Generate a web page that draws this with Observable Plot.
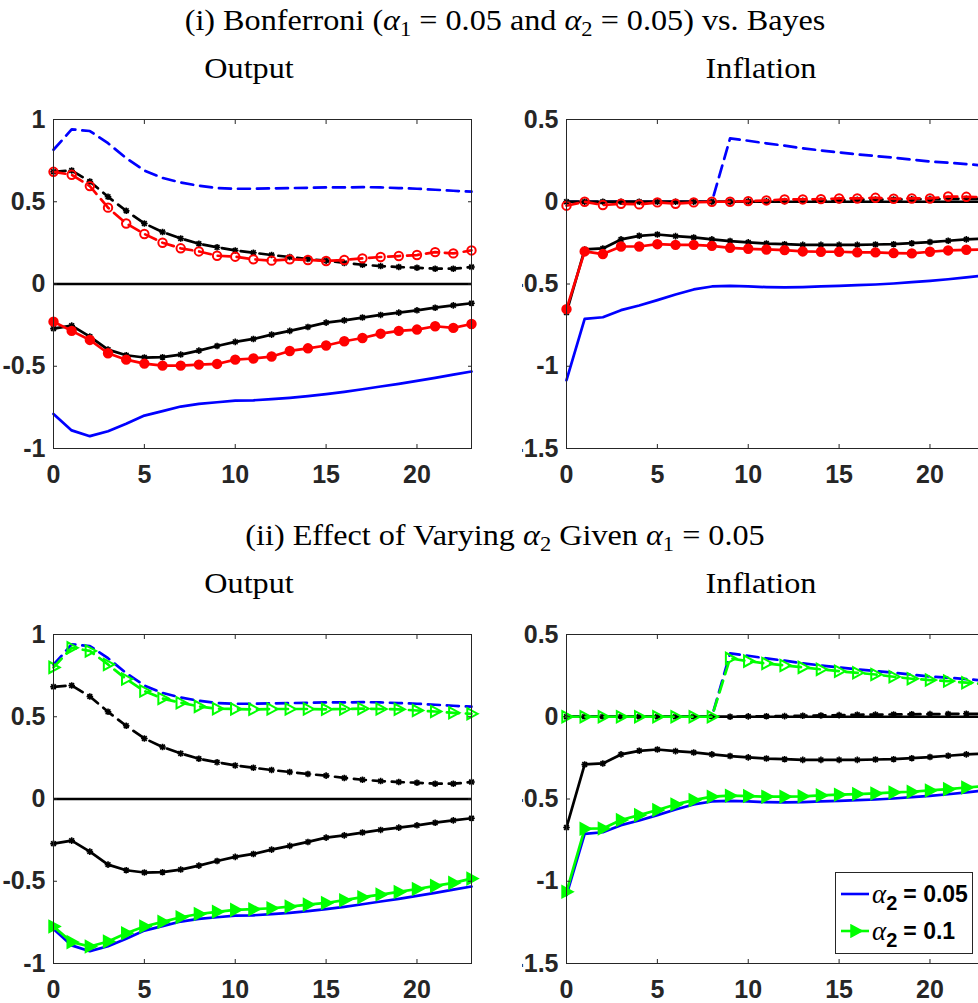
<!DOCTYPE html>
<html>
<head>
<meta charset="utf-8">
<script src="https://cdn.jsdelivr.net/npm/d3@7"></script>
<script src="https://cdn.jsdelivr.net/npm/@observablehq/plot@0.6"></script>
<style>
html,body{margin:0;padding:0;overflow:hidden;background:#fff;width:978px;height:1003px;}
#root{position:relative;width:978px;height:1003px;overflow:hidden;background:#fff;}
.title{position:absolute;font-family:"Liberation Serif","DejaVu Serif",serif;font-size:29px;color:#000;white-space:nowrap;transform:translate(-50%,-50%) scaleX(1.11);line-height:1;}
.title i{font-style:italic;}
.title sub{font-size:0.7em;vertical-align:-0.3em;line-height:0;}
.panel{position:absolute;overflow:hidden;}
.panel svg{position:absolute;top:0;max-width:none !important;}
#legend{position:absolute;left:835px;top:872px;width:138px;height:82px;border:1px solid #262626;background:#fff;box-sizing:border-box;}
#legend .li{position:absolute;left:5px;height:30px;display:flex;align-items:center;font-family:"Liberation Sans",Arial,sans-serif;font-weight:bold;font-size:23px;color:#000;white-space:nowrap;}
#legend .al{font-family:"Liberation Serif","DejaVu Serif",serif;font-style:italic;font-weight:normal;font-size:27px;margin-left:3px;}
#legend .sb{font-size:20px;position:relative;top:9px;margin-right:6px;}
</style>
</head>
<body>
<div id="root">
  <div class="title" style="left:505px;top:20px">(i) Bonferroni (<i>α</i><sub>1</sub> = 0.05 and <i>α</i><sub>2</sub> = 0.05) vs. Bayes</div>
  <div class="title" style="left:249px;top:68px">Output</div>
  <div class="title" style="left:761px;top:68px">Inflation</div>
  <div class="title" style="left:505px;top:535px">(ii) Effect of Varying <i>α</i><sub>2</sub> Given <i>α</i><sub>1</sub> = 0.05</div>
  <div class="title" style="left:249px;top:583px">Output</div>
  <div class="title" style="left:761px;top:583px">Inflation</div>
  <div class="panel" id="p1" style="left:0px;top:100px;width:490px;height:403px"></div>
  <div class="panel" id="p2" style="left:522px;top:100px;width:456px;height:403px"></div>
  <div class="panel" id="p3" style="left:0px;top:615px;width:490px;height:388px"></div>
  <div class="panel" id="p4" style="left:522px;top:615px;width:456px;height:388px"></div>
  <div id="legend">
    <div class="li" style="top:6px">
      <svg width="28" height="14"><line x1="0" y1="7" x2="28" y2="7" stroke="#0000ff" stroke-width="2.6"/></svg>
      <span class="al">α</span><span class="sb">2</span><span>= 0.05</span>
    </div>
    <div class="li" style="top:43px">
      <svg width="28" height="14"><line x1="0" y1="7" x2="28" y2="7" stroke="#00ff00" stroke-width="2.6"/><path d="M21,7 L10,1 L10,13 Z" fill="#00ff00" stroke="#00ff00" stroke-width="1.5"/></svg>
      <span class="al">α</span><span class="sb">2</span><span>= 0.1</span>
    </div>
  </div>
</div>
<script>
// ---- data ----
const horizons = [0,1,2,3,4,5,6,7,8,9,10,11,12,13,14,15,16,17,18,19,20,21,22,23];
const xTicks = [0,5,10,15,20];
const yTicksOutput = [-1,-0.5,0,0.5,1];
const yTicksInflation = [-1.5,-1,-0.5,0,0.5];

// Output
const outBlueUp  = [0.816,0.94,0.93,0.856,0.765,0.69,0.645,0.617,0.597,0.583,0.579,0.579,0.581,0.583,0.585,0.587,0.587,0.589,0.587,0.583,0.579,0.573,0.567,0.561];
const outBlueLo  = [-0.79,-0.89,-0.925,-0.895,-0.85,-0.80,-0.773,-0.745,-0.729,-0.719,-0.709,-0.707,-0.70,-0.692,-0.682,-0.67,-0.656,-0.64,-0.623,-0.607,-0.589,-0.571,-0.551,-0.532];
const outBlackUp = [0.682,0.69,0.623,0.53,0.445,0.368,0.316,0.277,0.245,0.223,0.204,0.19,0.176,0.164,0.152,0.142,0.128,0.117,0.109,0.103,0.099,0.093,0.093,0.103];
const outBlackLo = [-0.271,-0.253,-0.32,-0.399,-0.433,-0.447,-0.445,-0.429,-0.405,-0.377,-0.352,-0.334,-0.308,-0.285,-0.261,-0.235,-0.221,-0.204,-0.188,-0.174,-0.16,-0.144,-0.13,-0.117];
const outRedUp   = [0.682,0.664,0.595,0.464,0.368,0.304,0.251,0.217,0.198,0.172,0.166,0.15,0.142,0.15,0.146,0.14,0.146,0.156,0.164,0.17,0.176,0.194,0.186,0.204];
const outRedLo   = [-0.229,-0.285,-0.34,-0.421,-0.46,-0.484,-0.496,-0.496,-0.49,-0.486,-0.46,-0.453,-0.441,-0.407,-0.391,-0.374,-0.348,-0.328,-0.302,-0.285,-0.277,-0.257,-0.267,-0.243];
const outGreenUp = [0.80,0.919,0.90,0.818,0.729,0.656,0.611,0.585,0.563,0.549,0.547,0.545,0.547,0.547,0.547,0.545,0.547,0.549,0.547,0.545,0.538,0.532,0.524,0.518];
const outGreenLo = [-0.775,-0.87,-0.897,-0.866,-0.816,-0.775,-0.747,-0.719,-0.699,-0.686,-0.674,-0.67,-0.664,-0.654,-0.642,-0.632,-0.615,-0.597,-0.581,-0.565,-0.547,-0.528,-0.51,-0.484];

// Inflation
const infBlueUp  = [0,0,0,0,0,0,0,0,0,0.385,0.371,0.355,0.341,0.325,0.312,0.30,0.288,0.278,0.268,0.256,0.245,0.237,0.229,0.219];
const infBlueLo  = [-1.085,-0.712,-0.702,-0.659,-0.631,-0.598,-0.564,-0.533,-0.515,-0.511,-0.515,-0.519,-0.521,-0.519,-0.515,-0.511,-0.507,-0.503,-0.497,-0.489,-0.481,-0.471,-0.46,-0.448];
const infBlackUp = [0,0,0,0,0,0,0,0,0,0,0.002,0.003,0.004,0.006,0.008,0.01,0.012,0.013,0.014,0.015,0.016,0.017,0.018,0.018];
const infBlackLo = [-0.673,-0.29,-0.284,-0.229,-0.207,-0.199,-0.209,-0.217,-0.229,-0.239,-0.247,-0.254,-0.258,-0.262,-0.262,-0.262,-0.262,-0.26,-0.258,-0.252,-0.245,-0.237,-0.229,-0.223];
const infRedUp   = [-0.024,0,-0.02,-0.012,-0.016,-0.004,-0.012,-0.004,0,0,0.004,0.008,0.014,0.014,0.016,0.02,0.02,0.024,0.018,0.02,0.02,0.032,0.03,0.028];
const infRedLo   = [-0.653,-0.302,-0.318,-0.272,-0.272,-0.258,-0.262,-0.262,-0.268,-0.28,-0.286,-0.29,-0.294,-0.302,-0.304,-0.304,-0.308,-0.308,-0.312,-0.314,-0.304,-0.296,-0.292,-0.29];
const infGreenUp = [0,0,0,0,0,0,0,0,0,0.355,0.338,0.324,0.312,0.30,0.288,0.277,0.267,0.257,0.243,0.231,0.223,0.217,0.207,0.199];
const infGreenLo = [-1.064,-0.681,-0.679,-0.628,-0.598,-0.567,-0.533,-0.507,-0.486,-0.48,-0.482,-0.486,-0.486,-0.484,-0.478,-0.474,-0.47,-0.466,-0.46,-0.456,-0.448,-0.44,-0.43,-0.421];

// ---- symbols ----
const star8 = {draw(ctx, size){ const r = Math.sqrt(size/Math.PI); const d = r*0.72;
  ctx.moveTo(-r,0); ctx.lineTo(r,0); ctx.moveTo(0,-r); ctx.lineTo(0,r);
  ctx.moveTo(-d,-d); ctx.lineTo(d,d); ctx.moveTo(-d,d); ctx.lineTo(d,-d); }};
const triRight = {draw(ctx, size){ const r = Math.sqrt(size/Math.PI);
  ctx.moveTo(r*1.1,0); ctx.lineTo(-r*0.75,-r); ctx.lineTo(-r*0.75,r); ctx.closePath(); }};

const BLUE = "#0000ff", RED = "#ff0000", BLACK = "#000000", GREEN = "#00ff00";
const LW = 2.7;

function seriesMarks(s){
  const data = horizons.map((h,i) => ({h, v: s.values[i]}));
  const out = [Plot.line(data, {x:"h", y:"v", stroke:s.color, strokeWidth:LW,
    strokeDasharray: s.dash ? "12,7" : undefined, strokeLinejoin:"round"})];
  if (s.marker === "star") out.push(Plot.dot(data, {x:"h", y:"v", symbol:star8, r:3.3, stroke:s.color, fill:"none", strokeWidth:1.6}));
  if (s.marker === "circle") out.push(Plot.dot(data, {x:"h", y:"v", symbol:"circle", r:4.2, stroke:s.color, fill: s.dash ? "none" : s.color, strokeWidth:2}));
  if (s.marker === "tri") out.push(Plot.dot(data, {x:"h", y:"v", symbol:triRight, r:5.6, stroke:s.color, fill: s.dash ? "none" : s.color, strokeWidth:2}));
  return out;
}

const tickFont = {fontSize:25, fontWeight:"bold", fontFamily:"'Liberation Sans', Arial, sans-serif"};

function panel(el, opts){
  const marks = [];
  for (const s of opts.back) marks.push(...seriesMarks(s));
  marks.push(Plot.ruleY([0], {stroke:BLACK, strokeWidth:LW}));
  for (const s of opts.front) marks.push(...seriesMarks(s));
  marks.push(
    Plot.axisX({ticks:xTicks, tickSize:-4, tickPadding:21, tickFormat:d=>String(d), label:null, color:"#262626", ...tickFont}),
    Plot.axisX({anchor:"top", ticks:xTicks, tickSize:-4, tickFormat:()=>"", label:null, color:"#262626"}),
    Plot.axisY({ticks:opts.yTicks, tickSize:-4, tickPadding:12, tickFormat:d=>String(d), label:null, color:"#262626", ...tickFont}),
    Plot.axisY({anchor:"right", ticks:opts.yTicks, tickSize:-4, tickFormat:()=>"", label:null, color:"#262626"}),
    Plot.frame({stroke:"#262626", strokeWidth:1})
  );
  const svg = Plot.plot({
    width: opts.width, height: 393,
    marginLeft: opts.ml, marginRight: opts.mr, marginTop: 19, marginBottom: 45,
    x: {domain:[0,23]},
    y: {domain: opts.yDomain},
    style: {background:"transparent", overflow:"visible"},
    marks
  });
  svg.style.left = opts.left + "px";
  document.getElementById(el).appendChild(svg);
}

const L = {width:490, ml:53, mr:19, left:0};
const R = {width:480, ml:60, mr:2, left:-16};

panel("p1", {...L, yDomain:[-1,1], yTicks:yTicksOutput,
  back:[{values:outBlueUp, color:BLUE, dash:true}, {values:outBlueLo, color:BLUE}],
  front:[{values:outBlackUp, color:BLACK, dash:true, marker:"star"}, {values:outBlackLo, color:BLACK, marker:"star"},
         {values:outRedUp, color:RED, dash:true, marker:"circle"}, {values:outRedLo, color:RED, marker:"circle"}]});
panel("p2", {...R, yDomain:[-1.5,0.5], yTicks:yTicksInflation,
  back:[{values:infBlueUp, color:BLUE, dash:true}, {values:infBlueLo, color:BLUE}],
  front:[{values:infBlackUp, color:BLACK, dash:true, marker:"star"}, {values:infBlackLo, color:BLACK, marker:"star"},
         {values:infRedUp, color:RED, dash:true, marker:"circle"}, {values:infRedLo, color:RED, marker:"circle"}]});
panel("p3", {...L, yDomain:[-1,1], yTicks:yTicksOutput,
  back:[{values:outBlueUp, color:BLUE, dash:true}, {values:outBlueLo, color:BLUE}],
  front:[{values:outBlackUp, color:BLACK, dash:true, marker:"star"}, {values:outBlackLo, color:BLACK, marker:"star"},
         {values:outGreenUp, color:GREEN, dash:true, marker:"tri"}, {values:outGreenLo, color:GREEN, marker:"tri"}]});
panel("p4", {...R, yDomain:[-1.5,0.5], yTicks:yTicksInflation,
  back:[{values:infBlueUp, color:BLUE, dash:true}, {values:infBlueLo, color:BLUE}],
  front:[{values:infBlackUp, color:BLACK, dash:true, marker:"star"}, {values:infBlackLo, color:BLACK, marker:"star"},
         {values:infGreenUp, color:GREEN, dash:true, marker:"tri"}, {values:infGreenLo, color:GREEN, marker:"tri"}]});
</script>
</body>
</html>
